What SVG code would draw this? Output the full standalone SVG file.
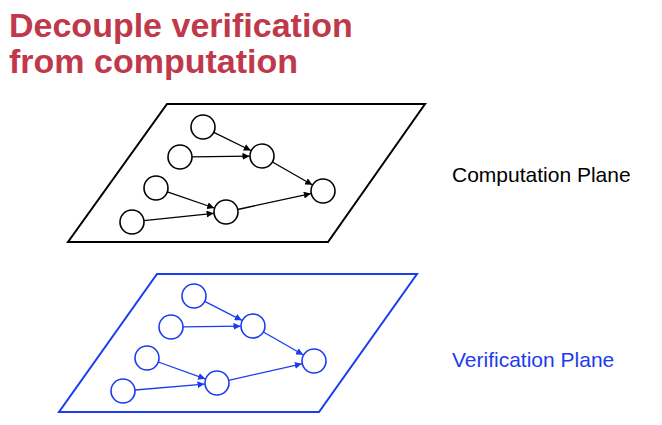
<svg xmlns="http://www.w3.org/2000/svg" width="662" height="425" viewBox="0 0 662 425">
<style>
.title{font-family:"Liberation Sans",Arial,sans-serif;font-weight:bold;font-size:34px;fill:#c0394b}
.lbl{font-family:"Liberation Sans",Arial,sans-serif;font-size:21px}
.plane{fill:none;stroke-width:2;stroke-linejoin:miter}
.node{fill:#fff;stroke-width:1.6}
.edge{fill:none;stroke-width:1.3}
.k{stroke:#000}
.b{stroke:#1a3cf0}
</style>
<defs>
<marker id="ak" viewBox="0 0 10 10" refX="10" refY="5" markerWidth="7" markerHeight="7" markerUnits="userSpaceOnUse" orient="auto"><path d="M0,0 L10,5 L0,10 z" fill="#000"/></marker>
<marker id="ab" viewBox="0 0 10 10" refX="10" refY="5" markerWidth="7" markerHeight="7" markerUnits="userSpaceOnUse" orient="auto"><path d="M0,0 L10,5 L0,10 z" fill="#1a3cf0"/></marker>
</defs>
<text class="title" x="9" y="37">Decouple verification</text>
<text class="title" x="9" y="73">from computation</text>
<text class="lbl" x="452" y="182" fill="#000">Computation Plane</text>
<text class="lbl" x="452" y="367" fill="#1a3cf0">Verification Plane</text>
<g id="computation-plane">
<polygon class="plane k" points="167,104 425,104 328,242 68,242"/>
</g>
<g id="verification-plane">
<polygon class="plane b" points="157,274 417,274 319,412 59,412"/>
</g>
<g id="connectors">
<line class="edge k" x1="213.8" y1="132.3" x2="250.8" y2="150.5" marker-end="url(#ak)"/>
<line class="edge k" x1="192" y1="156.9" x2="249.5" y2="156.2" marker-end="url(#ak)"/>
<line class="edge k" x1="272.4" y1="162" x2="312.2" y2="184.8" marker-end="url(#ak)"/>
<line class="edge k" x1="167.4" y1="191.9" x2="214.2" y2="208" marker-end="url(#ak)"/>
<line class="edge k" x1="143.9" y1="220.7" x2="213.6" y2="213.3" marker-end="url(#ak)"/>
<line class="edge k" x1="237.7" y1="209.5" x2="310.8" y2="193.6" marker-end="url(#ak)"/>
<line class="edge b" x1="204.7" y1="301.4" x2="241.9" y2="320.3" marker-end="url(#ab)"/>
<line class="edge b" x1="183" y1="326.9" x2="240.5" y2="326.2" marker-end="url(#ab)"/>
<line class="edge b" x1="263.4" y1="332" x2="303.1" y2="354.8" marker-end="url(#ab)"/>
<line class="edge b" x1="158.3" y1="362" x2="205.2" y2="378.8" marker-end="url(#ab)"/>
<line class="edge b" x1="135" y1="390" x2="204.5" y2="384.1" marker-end="url(#ab)"/>
<line class="edge b" x1="228.7" y1="380.3" x2="301.8" y2="363.8" marker-end="url(#ab)"/>
</g>
<g id="c1"><circle class="node k" cx="203" cy="127" r="12"/></g>
<g id="c2"><circle class="node k" cx="180" cy="157" r="12"/></g>
<g id="c3"><circle class="node k" cx="262" cy="156" r="12"/></g>
<g id="c4"><circle class="node k" cx="156" cy="188" r="12"/></g>
<g id="c5"><circle class="node k" cx="323" cy="191" r="12"/></g>
<g id="c6"><circle class="node k" cx="132" cy="222" r="12"/></g>
<g id="c7"><circle class="node k" cx="226" cy="212" r="12"/></g>
<g id="v1"><circle class="node b" cx="194" cy="296" r="12"/></g>
<g id="v2"><circle class="node b" cx="171" cy="327" r="12"/></g>
<g id="v3"><circle class="node b" cx="253" cy="326" r="12"/></g>
<g id="v4"><circle class="node b" cx="147" cy="358" r="12"/></g>
<g id="v5"><circle class="node b" cx="314" cy="361" r="12"/></g>
<g id="v6"><circle class="node b" cx="123" cy="391" r="12"/></g>
<g id="v7"><circle class="node b" cx="217" cy="383" r="12"/></g>
</svg>
